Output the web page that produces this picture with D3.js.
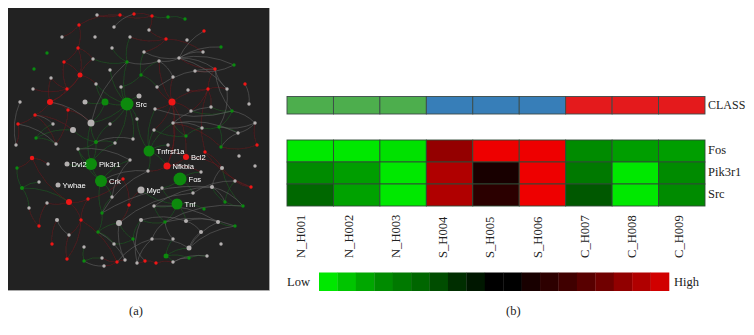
<!DOCTYPE html>
<html>
<head>
<meta charset="utf-8">
<script src="https://d3js.org/d3.v7.min.js"></script>
<style>
html, body { margin: 0; padding: 0; background: #fff; }
svg { display: block; }
</style>
</head>
<body>
<script>
// (a) network: [x, y, size], id = group letter + index
const redNodes = [[120,15],[134,14],[79,25],[78,48],[64,62],[80,75,2.5],[67,89],[50,102,3],[68,110],[35,115],[18,124],[152,16],[204,31],[166,39],[215,69],[245,84],[208,89],[172,102,3.5],[257,145],[32,158,2.2],[123,179],[88,199],[69,202,3],[129,205],[81,220],[39,226],[52,244],[67,259],[117,262],[186,157,3],[167,166,3.5],[251,187],[145,261],[156,263],[205,152]];
const greenNodes = [[47,53],[127,62],[34,69],[105,102,3.5],[127,104,6.5],[36,138],[96,142,2],[168,17],[185,19],[221,47],[234,65],[141,75],[232,111],[219,127],[186,136],[221,147],[149,151,5.5],[17,168],[91,164,6],[101,181,6],[22,188,2],[102,213],[98,232],[133,239],[84,261],[180,179,6.5],[177,204,5.5],[225,202],[204,209],[243,206],[165,222],[235,226],[166,256,2.5],[189,258]];
const grayNodes = [[97,15],[114,27],[62,37],[95,37],[130,37],[112,48],[93,59],[110,70],[51,78],[96,84],[121,87],[33,89],[85,102,2.5],[20,102],[91,123,3.5],[53,124],[110,124],[73,130,3],[133,139],[16,145],[56,144],[115,143],[78,149],[149,30],[187,40],[144,52],[203,52],[179,58],[159,61],[195,71],[173,77],[157,87],[188,90],[227,89],[139,96,2.5],[249,104],[211,107],[155,109],[191,111],[137,119],[173,123],[255,123],[202,128],[154,130],[238,133],[168,145],[48,164],[67,164,2.5],[130,160],[58,185,2.5],[39,182],[112,197],[47,203],[29,208],[57,220,2],[119,223,3],[69,235],[114,244],[84,247],[102,258],[125,260],[104,266],[239,156],[255,166],[222,168,2],[201,172],[148,171],[235,181],[141,190,3.5],[162,188],[212,187,2],[193,193],[154,206],[141,220,2],[186,221,2],[218,222,2],[201,232,2],[152,239],[173,239],[221,244],[189,248,2.5],[207,256],[173,262],[137,263]];

const redEdges = "r2-r3 r2-w2 r2-r0 r0-w0 r1-r11 r3-r5 r3-r4 r4-r5 r5-r6 r5-w9 r5-r7 r6-r7 r6-w8 r6-w11 r7-r8 r7-r9 r7-w8 r9-r10 r9-w17 r10-w19 r8-w14 r8-w20 r6-r4 r9-w20 r3-w6 r5-w6 r11-w23 r11-r0 r13-w23 r13-w4 r13-w26 r13-w25 r17-w30 r17-r16 r17-w31 r17-w28 r17-w40 r17-w37 r17-w38 r16-w33 r16-r14 r16-w32 r16-w36 r16-w38 r14-w29 r14-w27 r18-w41 r18-g15 r17-w43 w40-r30 w40-g15 r29-w45 r29-r30 r30-w66 r30-w65 r29-w64 r34-w64 r34-r16 r31-w67 r31-w64 r31-r34 r20-g19 r20-r23 r20-r21 r21-r22 r22-w52 r22-r19 r19-w46 r19-g17 r22-r24 r24-r21 r24-w56 r24-r27 r24-r28 r23-w68 r23-w55 r28-w59 r28-w61 r28-w60 r25-w53 r25-w52 r26-w54 r27-w56 r32-r33 r33-w82 r32-w83 r17-r29 r17-r30".split(" ");
const greenEdges = "g4-w14 g4-w16 g4-w10 g4-w7 g4-g1 g4-w9 g4-g3 g4-w18 g4-w21 g4-w39 g4-w34 g3-w12 g3-w14 g3-w9 g6-w14 g6-w22 g6-w21 g6-w16 g6-g18 g6-w17 g5-w15 g5-w20 g5-w17 g1-w5 g1-w4 g1-w6 g11-w25 g11-w28 g11-w31 g11-w10 g18-w14 g18-w22 g18-w47 g18-w21 g19-w22 g19-w51 g19-g18 g19-w48 g16-w37 g16-w43 g16-w40 g16-w45 g16-r30 g16-w66 g16-w39 g25-w69 g25-w71 g25-w65 g26-w69 g26-w72 g26-w68 g26-g30 g26-g28 g26-w74 g14-w43 g14-w40 g14-w42 g13-w42 g13-g15 g13-w44 g12-w36 g12-w38 g12-g13 g21-g19 g21-w51 g21-g22 g22-w55 g22-w57 g23-w55 g23-w73 g23-w57 g24-w58 g24-w59 g7-r11 g7-g8 g27-w67 g27-w70 g29-g27 g29-w64 g30-w73 g30-w72 g31-w75 g32-w80 g32-g33 g32-w82 g33-w81 g32-w78 g20-w50 g20-g17 g20-r22 g20-w53".split(" ");
const grayEdges = "w19-w13 r7-w14 r10-w20 r9-w15 w14-g1 w1-r1 w27-r12 w27-w26 w27-g9 w27-g10 w27-r14 w27-w25 w27-w28 w27-w33 r15-w35 w33-r14 w33-g13 g12-r14 g10-w29 g12-w37 w41-g13 w41-w44 w40-w42 w40-w36 w40-w44 g15-w44 w28-g1 w28-w30 w31-r14 w22-w48 g6-w18 w51-w48 g21-w70 w55-w71 g21-w66 g19-w66 w71-w67 w70-w64 w70-g27 w70-g29 w72-w70 w72-w75 g30-g31 w74-w75 w74-w76 w80-w76 w80-w75 w80-g31 w73-w74 g30-g29 w77-w80 w77-g30 w82-w81 w82-g33 w78-g30 w83-w77 w83-w73 r28-w77 r32-g23 w60-w55 w61-g24 w56-w54 g22-w60 g12-w41".split(" ");

const hubLabels = ["g4:Src","w47:Dvl2","g18:Pik3r1","g19:Crk","w49:Ywhae","g16:Tnfrsf1a","r29:Bcl2","r30:Nfkbia","g25:Fos","w68:Myc","g26:Tnf"];

// (b) heatmap
const samples = ["N_H001","N_H002","N_H003","S_H004","S_H005","S_H006","C_H007","C_H008","C_H009"];
const sampleClass = ["N","N","N","S","S","S","C","C","C"];
const genes = ["Fos","Pik3r1","Src"];
const fosValues = [-1,-1,-0.97,0.62,1,1,-0.6,-0.68,-0.68];
const pik3r1Values = [-0.6,-0.68,-1,0.74,0.1,1,-0.52,-1,-0.6];
const srcValues = [-0.45,-0.7,-1,0.74,0.18,1,-0.38,-1,-0.6];
const legendValues = [-1,-0.85,-0.72,-0.6,-0.52,-0.44,-0.33,-0.2,-0.1,0,0,0.1,0.19,0.27,0.37,0.47,0.61,0.74,0.88];

const svg = d3.select("body").append("svg").attr("width", 754).attr("height", 335);

// ---- network panel ----
const x = d3.scaleLinear().domain([8, 269]).range([8, 269]);
const y = d3.scaleLinear().domain([8, 290]).range([8, 290]);

svg.append("filter").attr("id", "soft")
    .attr("x", 0).attr("y", 0).attr("width", 1).attr("height", 1)
    .append("feGaussianBlur").attr("stdDeviation", 0.35);

svg.append("rect")
    .attr("x", x(8)).attr("y", y(8))
    .attr("width", x(269) - x(8)).attr("height", y(290) - y(8))
    .attr("fill", "#222222");

// thin grey edge along the bottom and right of the panel
svg.append("path")
    .attr("d", `M${x(8)},${y(290) + 0.5}H${x(269) + 0.5}V${y(8)}`)
    .attr("fill", "none")
    .attr("stroke", "#aaaaaa")
    .attr("stroke-width", 1);

const net = svg.append("g").attr("filter", "url(#soft)");

const nodes = new Map();
function addNodes(list, prefix, color) {
    list.forEach(function (d, i) {
        nodes.set(prefix + i, { id: prefix + i, px: d[0], py: d[1], size: d[2] || 1.7, color: color });
    });
}
addNodes(redNodes, "r", "#f01414");
addNodes(greenNodes, "g", "#0b8a0f");
addNodes(grayNodes, "w", "#b4b0b0");

function edgePath(e) {
    const ends = e.split("-");
    const a = nodes.get(ends[0]), b = nodes.get(ends[1]);
    const dist = Math.hypot(x(b.px) - x(a.px), y(b.py) - y(a.py));
    const radius = dist * 1.6;
    return `M${x(a.px)},${y(a.py)}A${radius},${radius} 0 0 1 ${x(b.px)},${y(b.py)}`;
}

function drawEdges(list, color) {
    net.append("g").selectAll("path")
        .data(list)
        .enter().append("path")
        .attr("d", edgePath)
        .attr("fill", "none")
        .attr("stroke", color)
        .attr("stroke-width", 0.6);
}
drawEdges(greenEdges, "#1c5a22");
drawEdges(redEdges, "#661a1d");
drawEdges(grayEdges, "#626262");

net.append("g").selectAll("circle")
    .data(Array.from(nodes.values()))
    .enter().append("circle")
    .attr("cx", d => x(d.px))
    .attr("cy", d => y(d.py))
    .attr("r", d => d.size)
    .attr("fill", d => d.color);

net.append("g").selectAll("text")
    .data(hubLabels)
    .enter().append("text")
    .attr("x", function (d) { const n = nodes.get(d.split(":")[0]); return x(n.px) + n.size + 2; })
    .attr("y", function (d) { return y(nodes.get(d.split(":")[0]).py); })
    .attr("dy", "0.35em")
    .attr("font-family", "Liberation Sans")
    .attr("font-size", 7.6)
    .attr("fill", "#ffffff")
    .text(d => d.split(":")[1]);

// ---- heatmap panel ----
const serif = "Liberation Serif";
const col = d3.scaleBand().domain(samples).range([287, 705]);
const row = d3.scaleBand().domain(genes).range([140, 206]);
const classColor = d3.scaleOrdinal().domain(["N","S","C"]).range(["#4dae4d","#377eb8","#e41a1c"]);
const heatColor = d3.scaleLinear().domain([-1, 0, 1]).range(["#00e800", "#000000", "#ee0000"]);
// sample labels sit on a slightly wider pitch than the cells
const labelPos = d3.scalePoint().domain(samples).range([301, 679]);

svg.append("g").selectAll("rect")
    .data(samples)
    .enter().append("rect")
    .attr("x", d => col(d))
    .attr("y", 96.5)
    .attr("width", col.bandwidth())
    .attr("height", 17.5)
    .attr("fill", (d, i) => classColor(sampleClass[i]))
    .attr("stroke", "#3c4a48")
    .attr("stroke-width", 0.9);

const geneValues = [fosValues, pik3r1Values, srcValues];
const heatRows = svg.append("g").selectAll("g")
    .data(genes)
    .enter().append("g");

heatRows.selectAll("rect")
    .data((g, i) => geneValues[i].map((v, j) => ({ gene: g, sample: samples[j], value: v })))
    .enter().append("rect")
    .attr("x", d => col(d.sample))
    .attr("y", d => row(d.gene))
    .attr("width", col.bandwidth())
    .attr("height", row.bandwidth())
    .attr("fill", d => heatColor(d.value))
    .attr("stroke", "#2f4a35")
    .attr("stroke-width", 0.9);

function sideLabel(text, px, py, size) {
    svg.append("text")
        .attr("x", px).attr("y", py).attr("dy", "0.35em")
        .attr("font-family", serif).attr("font-size", size).attr("fill", "#222")
        .text(text);
}
sideLabel("CLASS", 708, 104.5, 12);
genes.forEach(g => sideLabel(g, 708, row(g) + row.bandwidth() / 2 - 1, 12.5));

svg.append("g").selectAll("text")
    .data(samples)
    .enter().append("text")
    .attr("transform", d => `translate(${labelPos(d)},258) rotate(-90)`)
    .attr("dy", "0.35em")
    .attr("font-family", serif).attr("font-size", 12.6).attr("fill", "#222")
    .text(d => d);

// ---- colour key ----
const key = d3.scaleBand().domain(d3.range(legendValues.length)).range([319, 669]);
svg.append("g").selectAll("rect")
    .data(legendValues)
    .enter().append("rect")
    .attr("x", (d, i) => key(i))
    .attr("y", 272.5)
    .attr("width", key.bandwidth() + 0.3)
    .attr("height", 18.5)
    .attr("fill", d => heatColor(d));

sideLabel("Low", 287, 282, 12.5);
sideLabel("High", 674, 282, 12.5);
sideLabel("(a)", 129, 311, 12.5);
sideLabel("(b)", 506, 311, 12.5);
</script>
</body>
</html>
